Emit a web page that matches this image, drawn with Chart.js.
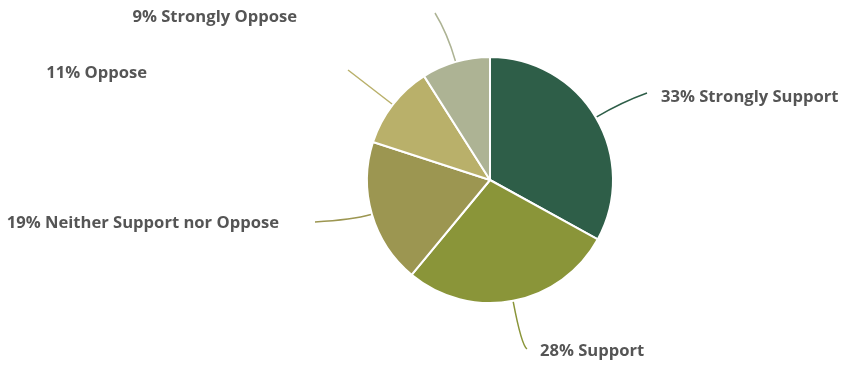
<!DOCTYPE html>
<html><head><meta charset="utf-8">
<script src="https://cdn.jsdelivr.net/npm/chart.js@4"></script>
<style>html,body{margin:0;padding:0;background:#fff}#wrap{width:845px;height:366px}</style>
</head><body><div id="wrap"><canvas id="c" width="845" height="366"></canvas></div>
<script>
const categories = ["Strongly Support", "Support", "Neither Support nor Oppose", "Oppose", "Strongly Oppose"];
const values = [33, 28, 19, 11, 9];
const colors = ["#2E5E48", "#8A9539", "#9C9651", "#B9B06A", "#ADB394"];

// label layout (relative to pie centre): leader end point, text anchor, alignment, control extension
const labelLayout = [
  {end:[157,-87], text:[171,-83], align:"left",  ctrl:30},
  {end:[37,169],  text:[50,171],  align:"left",  ctrl:45},
  {end:[-175,42], text:[-211,43], align:"right", ctrl:20},
  {end:[-142,-110], text:[-343,-107], align:"right", ctrl:30},
  {end:[-55,-167], text:[-193,-163], align:"right", ctrl:30}
];

const leaderPlugin = {
  id: 'leaders',
  afterDatasetsDraw(chart) {
    const ctx = chart.ctx;
    const meta = chart.getDatasetMeta(0);
    meta.data.forEach((arc, i) => {
      const p = arc.getProps(['x','y','startAngle','endAngle','outerRadius'], true);
      const mid = (p.startAngle + p.endAngle) / 2;
      const r = p.outerRadius;
      const L = labelLayout[i];
      const sx = p.x + Math.cos(mid) * (r + 1), sy = p.y + Math.sin(mid) * (r + 1);
      const cx = p.x + Math.cos(mid) * (r + L.ctrl), cy = p.y + Math.sin(mid) * (r + L.ctrl);
      const ex = p.x + L.end[0], ey = p.y + L.end[1];
      ctx.save();
      ctx.strokeStyle = colors[i];
      ctx.lineWidth = 1.5;
      ctx.beginPath();
      ctx.moveTo(sx, sy);
      ctx.quadraticCurveTo(cx, cy, ex, ey);
      ctx.stroke();
      ctx.fillStyle = "#555555";
      ctx.font = "bold 16.6px 'Open Sans', sans-serif";
      ctx.textAlign = L.align;
      ctx.textBaseline = "middle";
      ctx.fillText(values[i] + "% " + categories[i], p.x + L.text[0], p.y + L.text[1]);
      ctx.restore();
    });
  }
};

new Chart(document.getElementById('c'), {
  type: 'pie',
  data: {
    labels: categories,
    datasets: [{ data: values, backgroundColor: colors, borderColor: "#ffffff", borderWidth: 2 }]
  },
  options: {
    responsive: false,
    animation: false,
    layout: { padding: { top: 56, bottom: 62, left: 200, right: 65 } },
    plugins: { legend: { display: false }, tooltip: { enabled: false } }
  },
  plugins: [leaderPlugin]
});
</script></body></html>
